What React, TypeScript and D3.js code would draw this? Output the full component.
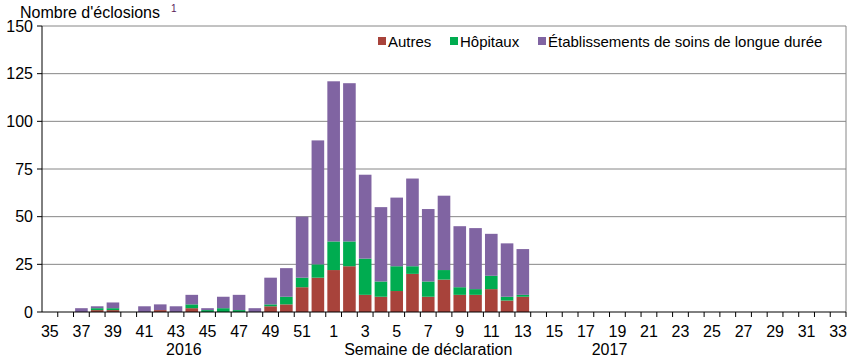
import * as d3 from "d3";

const weeks2016 = [35, 36, 37, 38, 39, 40, 41, 42, 43, 44, 45, 46, 47, 48, 49, 50, 51, 52];
const weeks2017 = d3.range(1, 34);

// values per week, 2016 wk35..52 then 2017 wk1..33
const autres = [
  0, 0, 0, 1, 1, 0, 0, 1, 0, 2, 0, 0, 0, 0, 3, 4, 13, 18,
  22, 24, 9, 8, 11, 20, 8, 17, 9, 9, 12, 6, 8,
  0, 0, 0, 0, 0, 0, 0, 0, 0, 0, 0, 0, 0, 0, 0, 0, 0, 0, 0, 0,
];
const hopitaux = [
  0, 0, 0, 1, 1, 0, 0, 0, 0, 2, 1, 2, 1, 0, 1, 4, 5, 7,
  15, 13, 19, 8, 13, 4, 8, 5, 4, 3, 7, 2, 1,
  0, 0, 0, 0, 0, 0, 0, 0, 0, 0, 0, 0, 0, 0, 0, 0, 0, 0, 0, 0,
];
const soinsLongueDuree = [
  0, 0, 2, 1, 3, 0, 3, 3, 3, 5, 1, 6, 8, 2, 14, 15, 32, 65,
  84, 83, 44, 39, 36, 46, 38, 39, 32, 32, 22, 28, 24,
  0, 0, 0, 0, 0, 0, 0, 0, 0, 0, 0, 0, 0, 0, 0, 0, 0, 0, 0, 0,
];

const yTicks = [0, 25, 50, 75, 100, 125, 150];
const seriesNames = ["Autres", "Hôpitaux", "Établissements de soins de longue durée"];
const colors = ["#A8433B", "#00AC50", "#8064A2"];

const W = 857;
const H = 361;
const m = { left: 42, right: 11, top: 26, bottom: 49 };
const font = "'Liberation Sans', Arial, sans-serif";

export default function App() {
  const keys = [
    ...weeks2016.map((w) => `2016-${w}`),
    ...weeks2017.map((w) => `2017-${w}`),
  ];
  const labels = [...weeks2016, ...weeks2017];
  const rows = keys.map((k, i) => ({
    key: k,
    label: labels[i],
    Autres: autres[i],
    "Hôpitaux": hopitaux[i],
    "Établissements de soins de longue durée": soinsLongueDuree[i],
  }));

  const x = d3
    .scaleBand()
    .domain(keys)
    .range([m.left, W - m.right])
    .paddingInner(0.2)
    .paddingOuter(0.1);
  const y = d3.scaleLinear([0, 150], [H - m.bottom, m.top]);
  const stack = d3.stack().keys(seriesNames)(rows as any);
  const step = x.step();
  const bottom = H - m.bottom;
  const cx = (k: string) => x(k)! + x.bandwidth() / 2;

  const legendX = [378, 450, 538];

  return (
    <svg
      width={W}
      height={H}
      style={{ position: "absolute", left: 0, top: 0, fontFamily: font }}
    >
      <rect width={W} height={H} fill="#fff" />
      {yTicks.map((t) => (
        <g key={t}>
          {t > 0 && (
            <line x1={m.left} x2={W - m.right} y1={y(t)} y2={y(t)} stroke="#868686" />
          )}
          <line x1={m.left - 5} x2={m.left} y1={y(t)} y2={y(t)} stroke="#000" />
          <text x={33} y={y(t)} dy="0.35em" textAnchor="end" fontSize={16} fill="#000">
            {t}
          </text>
        </g>
      ))}
      <line x1={W - m.right} x2={W - m.right} y1={m.top} y2={bottom} stroke="#868686" />

      {stack.map((s, si) =>
        s.map((d, i) =>
          d[1] > d[0] ? (
            <rect
              key={`${si}-${i}`}
              x={x(keys[i])}
              width={x.bandwidth()}
              y={y(d[1])}
              height={y(d[0]) - y(d[1])}
              fill={colors[si]}
            />
          ) : null
        )
      )}

      <line x1={m.left} x2={m.left} y1={m.top} y2={bottom} stroke="#000" />
      <line x1={m.left} x2={W - m.right} y1={bottom} y2={bottom} stroke="#000" />
      {keys.map((k) => (
        <line
          key={k}
          x1={x(k)! + x.bandwidth() + step * 0.1}
          x2={x(k)! + x.bandwidth() + step * 0.1}
          y1={bottom}
          y2={bottom + 5}
          stroke="#000"
        />
      ))}
      {rows.map((r, i) =>
        i % 2 === 0 ? (
          <text
            key={r.key}
            x={cx(r.key)}
            y={337}
            textAnchor="middle"
            fontSize={16}
            fill="#000"
          >
            {r.label}
          </text>
        ) : null
      )}
      <text x={cx("2016-43") + step * 0.5} y={355} textAnchor="middle" fontSize={16}>
        2016
      </text>
      <text x={cx("2017-7")} y={355} textAnchor="middle" fontSize={16}>
        Semaine de déclaration
      </text>
      <text x={cx("2017-19") - step * 0.5} y={355} textAnchor="middle" fontSize={16}>
        2017
      </text>

      <text x={20} y={18} fontSize={16} fill="#000">
        Nombre d'éclosions
      </text>
      <text x={171} y={12} fontSize={10} fill="#5a1a5a">
        1
      </text>

      {seriesNames.map((n, i) => (
        <g key={n} transform={`translate(${legendX[i]},42)`}>
          <rect x={0} y={-5} width={8} height={8} fill={colors[i]} />
          <text x={10} y={0} dy="0.35em" fontSize={15} fill="#000">
            {n}
          </text>
        </g>
      ))}
    </svg>
  );
}
